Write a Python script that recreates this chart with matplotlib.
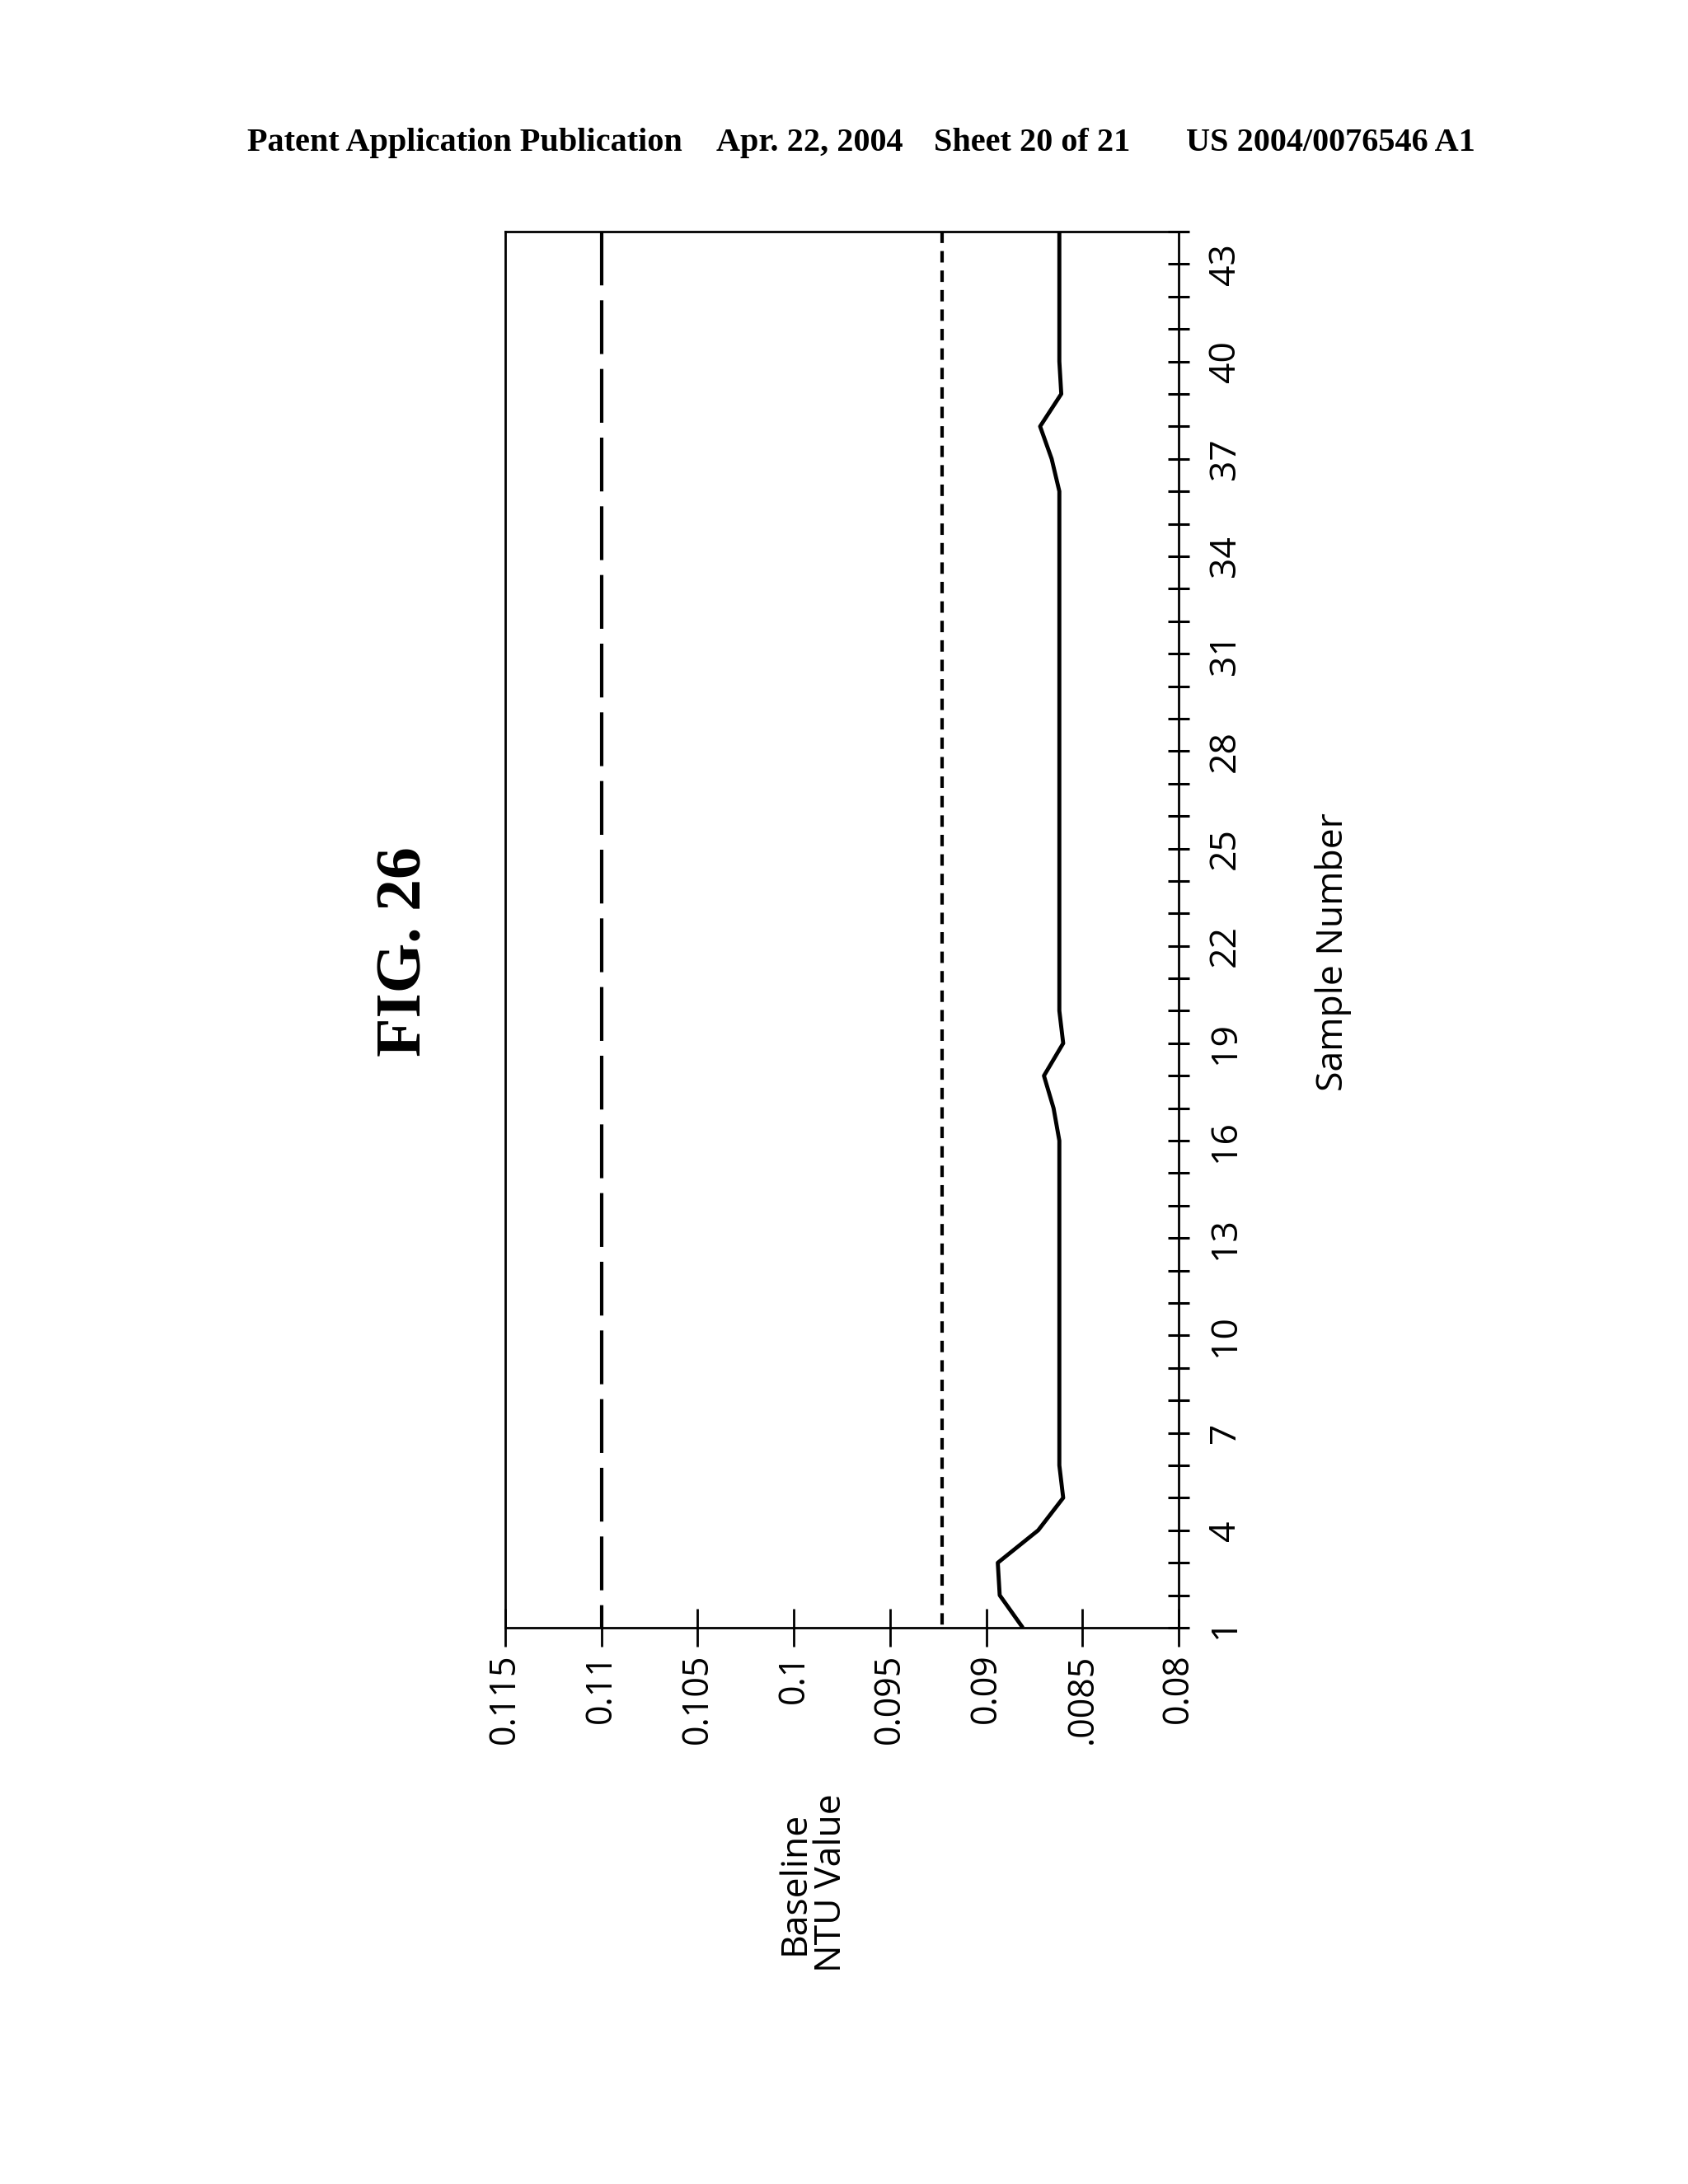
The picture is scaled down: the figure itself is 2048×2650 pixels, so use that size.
import matplotlib
matplotlib.use("Agg")
import matplotlib.pyplot as plt

plt.rcParams['font.family'] = ['Open Sans', 'DejaVu Sans']
plt.rcParams['lines.scale_dashes'] = False

# ---- data ----
samples = list(range(1, 45))
ntu_values = [0.0881, 0.0893, 0.0894, 0.0873, 0.0860, 0.0862, 0.0862, 0.0862,
              0.0862, 0.0862, 0.0862, 0.0862, 0.0862, 0.0862, 0.0862, 0.0862,
              0.0865, 0.0870, 0.0860, 0.0862, 0.0862, 0.0862, 0.0862, 0.0862,
              0.0862, 0.0862, 0.0862, 0.0862, 0.0862, 0.0862, 0.0862, 0.0862,
              0.0862, 0.0862, 0.0862, 0.0862, 0.0866, 0.0872, 0.0861, 0.0862,
              0.0862, 0.0862, 0.0862, 0.0862]
upper_limit = 0.11
lower_limit = 0.0923

ntu_ticks = [0.115, 0.11, 0.105, 0.1, 0.095, 0.09, 0.085, 0.08]
ntu_tick_labels = ["0.115", "0.11", "0.105", "0.1", "0.095", "0.09", ".0085", "0.08"]
sample_major_ticks = list(range(1, 44, 3))
sample_minor_ticks = list(range(1, 45))

header_parts = [("Patent Application Publication", 300),
                ("Apr. 22, 2004", 869),
                ("Sheet 20 of 21", 1133),
                ("US 2004/0076546 A1", 1439)]

W, H = 2048, 2650
fig = plt.figure(figsize=(W / 100, H / 100), dpi=100)
fig.patch.set_facecolor('white')

left, right, bottom, top = 613, 1430, 1975, 281
ax = fig.add_axes([left / W, (H - bottom) / H, (right - left) / W, (bottom - top) / H])

ax.set_xlim(0.115, 0.08)
ax.set_ylim(1, 44)

for s in ax.spines.values():
    s.set_linewidth(2.0)
    s.set_color('black')

ax.set_xticks(ntu_ticks)
ax.set_xticklabels(ntu_tick_labels)
ax.set_yticks(sample_major_ticks)
ax.set_yticks(sample_minor_ticks, minor=True)
ax.yaxis.tick_right()

ax.tick_params(axis='x', which='both', direction='inout', length=33, width=2.0,
               pad=6, labelsize=31, labelrotation=90, top=False, bottom=True)
ax.tick_params(axis='y', which='both', direction='inout', length=19, width=2.2,
               pad=15, labelsize=32, labelrotation=90, left=False, right=True,
               labelleft=False, labelright=True)
for lab in ax.get_yticklabels():
    lab.set_va('center')
    lab.set_ha('left')

ax.plot(ntu_values, samples, color='black', lw=3.5, solid_joinstyle='round',
        solid_capstyle='butt')
ax.axvline(upper_limit, ymin=1, ymax=0, color='black', lw=3.0, dashes=(47, 13))
ax.axvline(lower_limit, ymin=1, ymax=0, color='black', lw=3.0, dashes=(10, 7))

# ---- texts ----
for txt, x in header_parts:
    fig.text(x / W, 1 - 183 / H, txt, ha='left', va='baseline', fontsize=29,
             fontweight='bold', family=['Liberation Serif', 'DejaVu Serif'])

fig.text(492 / W, 1 - 1155 / H, "FIG. 26", rotation=90, ha='center', va='center',
         fontsize=56, fontweight='bold', family=['Liberation Serif', 'DejaVu Serif'])

fig.text(1617 / W, 1 - 1155 / H, "Sample Number", rotation=90, ha='center',
         va='center', fontsize=32)

fig.text(987 / W, 1 - 2285 / H, "Baseline\nNTU Value", rotation=90, ha='center',
         va='center', multialignment='center', linespacing=1.0, fontsize=32)

fig.savefig('out.png', dpi=100, facecolor='white')
